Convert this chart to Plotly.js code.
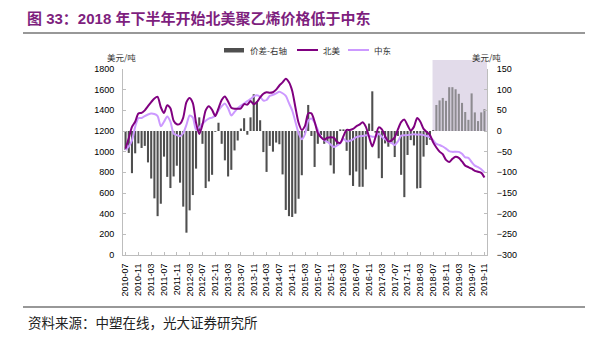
<!DOCTYPE html>
<html>
<head>
<meta charset="utf-8">
<script src="https://cdn.plot.ly/plotly-3.0.1.min.js"></script>
<style>html,body{margin:0;padding:0;background:#fff;}#chart{width:590px;height:340px;}</style>
</head>
<body>
<div id="chart"></div>
<script>
// ---- data ----
const months = [
  '2010-07','2010-08','2010-09','2010-10','2010-11','2010-12',
  '2011-01','2011-02','2011-03','2011-04','2011-05','2011-06','2011-07','2011-08','2011-09','2011-10','2011-11','2011-12',
  '2012-01','2012-02','2012-03','2012-04','2012-05','2012-06','2012-07','2012-08','2012-09','2012-10','2012-11','2012-12',
  '2013-01','2013-02','2013-03','2013-04','2013-05','2013-06','2013-07','2013-08','2013-09','2013-10','2013-11','2013-12',
  '2014-01','2014-02','2014-03','2014-04','2014-05','2014-06','2014-07','2014-08','2014-09','2014-10','2014-11','2014-12',
  '2015-01','2015-02','2015-03','2015-04','2015-05','2015-06','2015-07','2015-08','2015-09','2015-10','2015-11','2015-12',
  '2016-01','2016-02','2016-03','2016-04','2016-05','2016-06','2016-07','2016-08','2016-09','2016-10','2016-11','2016-12',
  '2017-01','2017-02','2017-03','2017-04','2017-05','2017-06','2017-07','2017-08','2017-09','2017-10','2017-11','2017-12',
  '2018-01','2018-02','2018-03','2018-04','2018-05','2018-06','2018-07','2018-08','2018-09','2018-10','2018-11','2018-12',
  '2019-01','2019-02','2019-03','2019-04','2019-05','2019-06','2019-07','2019-08','2019-09','2019-10','2019-11'
];
const tickLabels = ['2010-07','2010-11','2011-03','2011-07','2011-11','2012-03','2012-07','2012-11','2013-03','2013-07','2013-11','2014-03','2014-07','2014-11','2015-03','2015-07','2015-11','2016-03','2016-07','2016-11','2017-03','2017-07','2017-11','2018-03','2018-07','2018-11','2019-03','2019-07','2019-11'];

// 价差-右轴 (USD/t)
const spread = [
  -46,-53,-102,-54,-30,-41,
  -36,-76,-115,-163,-206,-176,-62,-111,-138,-110,-84,-125,
  -183,-246,-192,-155,-91,33,-31,-138,-122,-106,-2,20,
  -31,-71,-110,-94,-47,-23,6,31,-9,33,89,72,
  26,-51,-99,-36,-50,-28,-32,-105,-191,-206,-208,-200,
  -164,-107,-6,63,-12,-87,-31,-10,-31,-27,-83,-103,
  -35,4,4,-48,-107,-133,-98,-135,-135,-93,18,96,
  -4,-66,-114,-30,-38,-30,-63,-12,-106,-160,-58,-22,
  -35,-139,-138,-62,-34,-21,2,63,74,80,73,106,
  106,101,90,68,46,27,91,45,24,45,53
];
// 北美 (USD/t)
const northAmerica = [
  1030,1130,1240,1290,1370,1375,
  1400,1440,1480,1515,1530,1430,1375,1450,1420,1300,1265,1270,
  1330,1480,1520,1470,1280,1170,1260,1400,1440,1405,1345,1420,
  1500,1535,1485,1425,1415,1415,1420,1460,1455,1490,1460,1480,
  1525,1560,1575,1570,1575,1600,1640,1670,1705,1672,1590,1430,
  1280,1210,1250,1370,1370,1290,1180,1140,1115,1135,1140,1135,
  1095,1085,1150,1210,1210,1220,1245,1262,1285,1240,1142,1050,
  1140,1235,1215,1150,1100,1110,1140,1215,1285,1310,1255,1205,
  1240,1325,1290,1220,1190,1160,1090,1040,1000,975,920,900,
  930,950,940,905,865,850,835,815,805,795,750
];
// 中东 (USD/t)
const middleEast = [
  1015,1050,1110,1240,1325,1325,
  1345,1360,1370,1365,1345,1245,1290,1340,1290,1175,1160,1150,
  1180,1260,1350,1330,1210,1235,1270,1300,1320,1330,1350,1400,
  1440,1465,1420,1350,1385,1420,1445,1465,1490,1510,1535,1545,
  1530,1495,1500,1540,1550,1565,1580,1565,1540,1470,1400,1290,
  1180,1120,1170,1300,1320,1280,1210,1140,1110,1095,1070,1045,
  1060,1080,1125,1100,1105,1120,1140,1150,1152,1158,1155,1145,
  1145,1174,1145,1120,1100,1085,1065,1100,1155,1158,1160,1165,
  1168,1165,1165,1160,1152,1140,1110,1075,1065,1050,1030,1005,
  998,1000,998,980,945,940,900,865,850,830,800
];
const highlightStart = '2018-08';

// ---- layout helpers ----
const L = 123, R = 487, T = 69, B = 255;
const px = x => (x - L) / (R - L);
const py = y => (B - y) / (B - T);

const hiIdx = months.indexOf(highlightStart);
const barColors = months.map((m, i) => i >= hiIdx ? '#8d8b90' : '#4f4f4f');

const traces = [
  {type:'bar', x:months, y:spread, yaxis:'y', marker:{color:barColors, line:{width:0}}, name:'价差-右轴', hoverinfo:'skip'},
  {type:'scatter', mode:'lines', x:months, y:middleEast, yaxis:'y2', name:'中东',
   line:{color:'#cc99ff', width:2, shape:'spline', smoothing:0.7}},
  {type:'scatter', mode:'lines', x:months, y:northAmerica, yaxis:'y2', name:'北美',
   line:{color:'#800080', width:2, shape:'spline', smoothing:0.7}}
];

const axisCol = '#bdbdbd';
const cjk = 'Noto Sans CJK SC, sans-serif';
const latin = 'Liberation Sans, Arial, sans-serif';

const layout = {
  width:590, height:340,
  margin:{l:L, r:590-R, t:T, b:340-B, pad:0},
  paper_bgcolor:'#ffffff', plot_bgcolor:'rgba(0,0,0,0)',
  showlegend:false,
  bargap:0.35,
  font:{family:latin, size:9, color:'#000'},
  xaxis:{type:'category', range:[-0.8,112.8], tickmode:'array', tickvals:tickLabels, ticktext:tickLabels,
    tickangle:-90, ticks:'inside', ticklen:3, tickcolor:axisCol, showline:true, linecolor:axisCol, linewidth:1,
    showgrid:false, zeroline:false, tickfont:{family:latin, size:9, color:'#000'}, ticklabelstandoff:4},
  yaxis:{side:'right', range:[-300,150], tickmode:'linear', tick0:0, dtick:50, ticks:'inside', ticklen:3, tickcolor:axisCol,
    showline:true, linecolor:axisCol, showgrid:false, zeroline:false, tickfont:{family:latin, size:9, color:'#000'}, ticklabelstandoff:7},
  yaxis2:{overlaying:'y', side:'left', range:[0,1800], tickmode:'linear', tick0:0, dtick:200, ticks:'inside', ticklen:3, tickcolor:axisCol,
    showline:true, linecolor:axisCol, showgrid:false, zeroline:false, tickfont:{family:latin, size:9, color:'#000'}, ticklabelstandoff:6},
  shapes:[
    {type:'rect', xref:'x', yref:'paper', x0:95.8, x1:112.8, y0:py(131), y1:py(60), fillcolor:'#e2dbea', line:{width:0}, layer:'below'},
    {type:'line', xref:'paper', yref:'paper', x0:px(23), x1:px(585), y0:py(33), y1:py(33), line:{color:'#333', width:1.2}},
    {type:'line', xref:'paper', yref:'paper', x0:px(23), x1:px(585), y0:py(307), y1:py(307), line:{color:'#333', width:1.2}},
    {type:'rect', xref:'paper', yref:'paper', x0:px(224), x1:px(244), y0:py(52.5), y1:py(48), fillcolor:'#4f4f4f', line:{width:0}},
    {type:'line', xref:'paper', yref:'paper', x0:px(297), x1:px(318), y0:py(50), y1:py(50), line:{color:'#800080', width:2}},
    {type:'line', xref:'paper', yref:'paper', x0:px(348), x1:px(369), y0:py(50), y1:py(50), line:{color:'#cc99ff', width:2}}
  ],
  annotations:[
    {xref:'paper', yref:'paper', x:px(25), y:py(18), xanchor:'left', yanchor:'middle', showarrow:false,
     text:'<b>图 33：2018 年下半年开始北美聚乙烯价格低于中东</b>', font:{family:'Liberation Sans, Noto Sans CJK SC', size:15, color:'#7e1f7e'}},
    {xref:'paper', yref:'paper', x:px(248), y:py(50), xanchor:'left', yanchor:'middle', showarrow:false,
     text:'价差-右轴', font:{family:cjk, size:8.5, color:'#333'}},
    {xref:'paper', yref:'paper', x:px(321), y:py(50), xanchor:'left', yanchor:'middle', showarrow:false,
     text:'北美', font:{family:cjk, size:8.5, color:'#333'}},
    {xref:'paper', yref:'paper', x:px(372), y:py(50), xanchor:'left', yanchor:'middle', showarrow:false,
     text:'中东', font:{family:cjk, size:8.5, color:'#333'}},
    {xref:'paper', yref:'paper', x:px(121), y:py(57), xanchor:'center', yanchor:'middle', showarrow:false,
     text:'美元/吨', font:{family:cjk, size:8.5, color:'#333'}},
    {xref:'paper', yref:'paper', x:px(486), y:py(57), xanchor:'center', yanchor:'middle', showarrow:false,
     text:'美元/吨', font:{family:cjk, size:8.5, color:'#333'}},
    {xref:'paper', yref:'paper', x:px(26), y:py(322), xanchor:'left', yanchor:'middle', showarrow:false,
     text:'资料来源：中塑在线，光大证券研究所', font:{family:cjk, size:13.5, color:'#222'}}
  ]
};

Plotly.newPlot('chart', traces, layout, {staticPlot:true, displayModeBar:false});
</script>
</body>
</html>
